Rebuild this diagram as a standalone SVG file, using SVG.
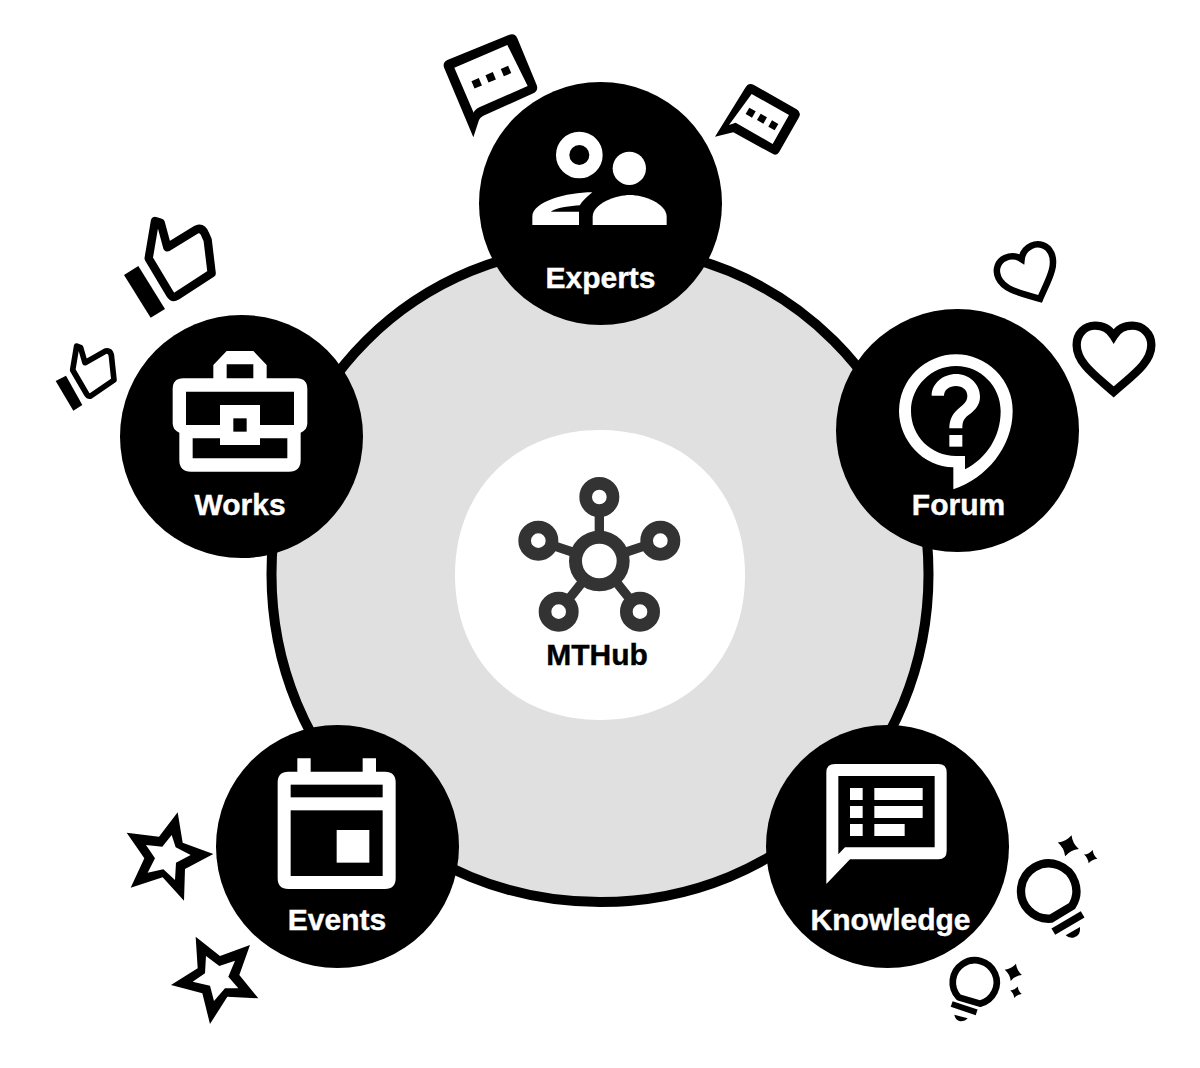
<svg xmlns="http://www.w3.org/2000/svg" width="1200" height="1068" viewBox="0 0 1200 1068">
<style>
.disc{fill:#000}
.w{fill:#fff}
.k{fill:#000}
.lbl{font-family:"Liberation Sans",Arial,sans-serif;font-weight:700;font-size:30px;text-anchor:middle;fill:#fff;stroke:#fff;stroke-width:.4}
.lout{fill:none;stroke:#000;stroke-linejoin:round}
.hub{fill:none;stroke:#333}
</style>
<defs>
<path id="heart" d="M851,486C800,440 740,400 740,345C740,310 765,287 795,287C820,287 840,300 851,318C862,300 882,287 907,287C937,287 964,310 964,345C964,400 902,440 851,486Z" fill="none" stroke="#000" stroke-width="25"/>
<path id="spark" d="M0,-1Q.3,-.3 1,0Q.3,.3 0,1Q-.3,.3 -1,0Q-.3,-.3 0,-1Z" fill="#000"/>
</defs>
<g id="connectors">
<path fill="#e0e0e0" stroke="#000" stroke-width="10" d="M600,246C785,246 928.500,389 928.500,574C928.500,759 785,902 600,902C415,902 271.500,759 271.500,574C271.500,389 415,246 600,246Z"/>
</g>
<g id="node-mthub">
<path fill="#fff" d="M600,430C685,430 745,490 745,575C745,660 685,720 600,720C515,720 455,660 455,575C455,490 515,430 600,430Z"/>
<g transform="translate(450 425) scale(.33333)">
<path class="hub" stroke-width="28" d="M448,408V216M448,408L265,347M448,408L631,347M448,408L326,560M448,408L570,560"/>
<circle cx="448" cy="408" r="71.500" fill="#fff" stroke="#333" stroke-width="39"/>
<circle cx="448" cy="216" r="41" fill="#fff" stroke="#333" stroke-width="38"/>
<circle cx="265" cy="347" r="41" fill="#fff" stroke="#333" stroke-width="38"/>
<circle cx="631" cy="347" r="41" fill="#fff" stroke="#333" stroke-width="38"/>
<circle cx="326" cy="560" r="41" fill="#fff" stroke="#333" stroke-width="38"/>
<circle cx="570" cy="560" r="41" fill="#fff" stroke="#333" stroke-width="38"/>
</g>
<text x="597" y="665" class="lbl" style="fill:#000;stroke:#000">MTHub</text>
</g>
<g id="node-experts">
<circle class="disc" cx="600.500" cy="203.500" r="121.500"/>
<g transform="translate(430 20) scale(.33333)">
<circle cx="448" cy="405" r="50" fill="none" stroke="#fff" stroke-width="40"/>
<circle class="w" cx="598" cy="445" r="50"/>
<path class="w" d="M307,615V590C307,545 410,517 487,517C465,535 452,550 450,556C420,558 385,562 362,575H447V615Z"/>
<path class="w" d="M488,615V590C488,550 560,525 600,525C640,525 710,550 710,590V615Z"/>
</g>
<text x="600.500" y="288" class="lbl">Experts</text>
<g transform="translate(430 20) scale(.33333)">
<path fill-rule="evenodd" class="k" d="M52,120L236,45Q255,38 262,55L320,195Q326,212 310,220L160,287Q150,292 147,300L130,352L43,145Q36,128 52,120ZM73,143L131,278Q133,270 148,262L293,198L232,75Z"/>
<g class="k">
<rect x="128" y="178" width="24" height="24" transform="rotate(-23 140 190)"/>
<rect x="170" y="160" width="24" height="24" transform="rotate(-23 182 172)"/>
<rect x="216" y="141" width="24" height="24" transform="rotate(-23 228 153)"/>
</g>
<path fill-rule="evenodd" class="k" d="M945,205Q955,185 972,195L1100,268Q1115,277 1107,292L1048,395Q1040,410 1025,400L910,337L855,350ZM965,222L897,315L917,308L1028,372L1077,285Z"/>
<g class="k">
<rect x="951" y="267" width="22" height="22" transform="rotate(30 962 278)"/>
<rect x="985" y="285" width="22" height="22" transform="rotate(30 996 296)"/>
<rect x="1019" y="305" width="22" height="22" transform="rotate(30 1030 316)"/>
</g>
</g>
</g>
<g id="node-works">
<circle class="disc" cx="241.500" cy="436.500" r="121.500"/>
<g transform="translate(40 210) scale(.33333)">
<path class="w" d="M520,505V465L560,423H640L680,465V505H770Q802,505 802,537V640Q802,660 782,668V750Q782,785 747,785H453Q418,785 418,750V668Q398,660 398,640V537Q398,505 430,505Z"/>
<path class="k" d="M560,463H640V505H560ZM438,545H762V645H660V585H540V645H438ZM458,685H540V705H660V685H742V745H458Z"/>
<rect class="k" x="580" y="625" width="40" height="40"/>
<polygon class="k" points="252,195 295,168 375,297 332,323"/>
<path class="lout" stroke-width="25" d="M345,33L362,38L382,112L470,58Q487,52 495,72L503,90L515,190L410,258Q398,265 390,252L326,145Z"/>
<polygon class="k" points="47,513 78,497 127,585 100,602"/>
<path class="lout" stroke-width="17" d="M110,408L122,413L135,458L197,423Q210,420 214,435L222,510L152,558Q145,560 140,552L98,480Z"/>
</g>
<text x="240" y="515" class="lbl">Works</text>
</g>
<g id="node-forum">
<circle class="disc" cx="957.500" cy="430.500" r="121.500"/>
<g transform="translate(830 230) scale(.33333)">
<path class="w" fill-rule="evenodd" d="M378,373A170,170 0 0 1 548,543C548,650 470,745 370,778V712C280,712 207,630 207,543A171,171 0 0 1 378,373ZM378,408C303,408 243,470 243,543C243,618 303,678 378,678H405V718C470,685 512,620 512,543C512,470 453,408 378,408Z"/>
<path class="w" d="M305,497C305,460 340,432 378,432C418,432 450,462 450,500C450,525 435,540 420,552C405,563 397,570 397,595H358C358,565 370,548 392,530C405,520 412,512 412,497C412,480 397,468 378,468C358,468 342,480 342,497Z"/>
<rect class="w" x="358" y="615" width="39" height="35"/>
<use href="#heart"/>
<use href="#heart" transform="translate(597 135) rotate(-25) scale(.78) translate(-851 -385)"/>
</g>
<text x="958.500" y="515" class="lbl">Forum</text>
</g>
<g id="node-events">
<circle class="disc" cx="337.500" cy="846.500" r="121.500"/>
<g transform="translate(110 720) scale(.33333)">
<path class="w" d="M562,155V115H602V155H758V115H798V155H825Q857,155 857,187V475Q857,507 825,507H535Q503,507 503,475V187Q503,155 535,155Z"/>
<rect class="k" x="542" y="194" width="276" height="38"/>
<rect class="k" x="542" y="271" width="276" height="197"/>
<rect class="w" x="680" y="330" width="98" height="98"/>
<path class="k" fill-rule="evenodd" d="M203,277L218,368L310,402L225,447L222,542L158,472L62,503L103,415L50,338L147,350ZM185,345L157,380L108,375L135,415L113,458L160,448L195,480L198,428L242,405L197,382Z"/>
<path class="k" fill-rule="evenodd" d="M257,650L330,708L420,675L388,765L445,835L352,830L300,912L277,820L183,795L263,745ZM288,708L285,760L248,785L300,797L312,843L345,805L385,805L355,770L375,722L328,738Z"/>
</g>
<text x="337" y="930" class="lbl">Events</text>
</g>
<g id="node-knowledge">
<circle class="disc" cx="887.500" cy="846.500" r="121.500"/>
<g transform="translate(760 720) scale(.33333)">
<path class="w" d="M225,132H535Q560,132 560,157V393Q560,418 535,418H270L199,492V157Q199,132 225,132Z"/>
<path class="k" d="M235,168H524V382H255L235,403Z"/>
<g class="w">
<rect x="270" y="204" width="38" height="36"/>
<rect x="343" y="204" width="145" height="36"/>
<rect x="270" y="258" width="38" height="36"/>
<rect x="343" y="258" width="145" height="36"/>
<rect x="270" y="312" width="38" height="36"/>
<rect x="343" y="312" width="91" height="36"/>
</g>
<path class="lout" stroke-width="25" d="M873,596L936,558A83,83 0 1 0 873,596Z"/>
<path fill="none" stroke="#000" stroke-width="22" d="M880,635L968,583"/>
<path class="k" d="M917,646L960,621Q963,648 940,653Q925,655 917,646Z"/>
<use href="#spark" transform="translate(925 377) rotate(17) scale(33)"/>
<use href="#spark" transform="translate(992 410) rotate(17) scale(21)"/>
<path class="lout" stroke-width="20" d="M596,832L660,851A66,66 0 1 0 596,832Z"/>
<path fill="none" stroke="#000" stroke-width="18" d="M575,852L650,877"/>
<path class="k" d="M583,884L623,895Q615,905 600,904Q586,900 583,884Z"/>
<use href="#spark" transform="translate(760 757) rotate(17) scale(27)"/>
<use href="#spark" transform="translate(768 817) rotate(17) scale(18)"/>
</g>
<text x="890.500" y="930" class="lbl">Knowledge</text>
</g>
</svg>
